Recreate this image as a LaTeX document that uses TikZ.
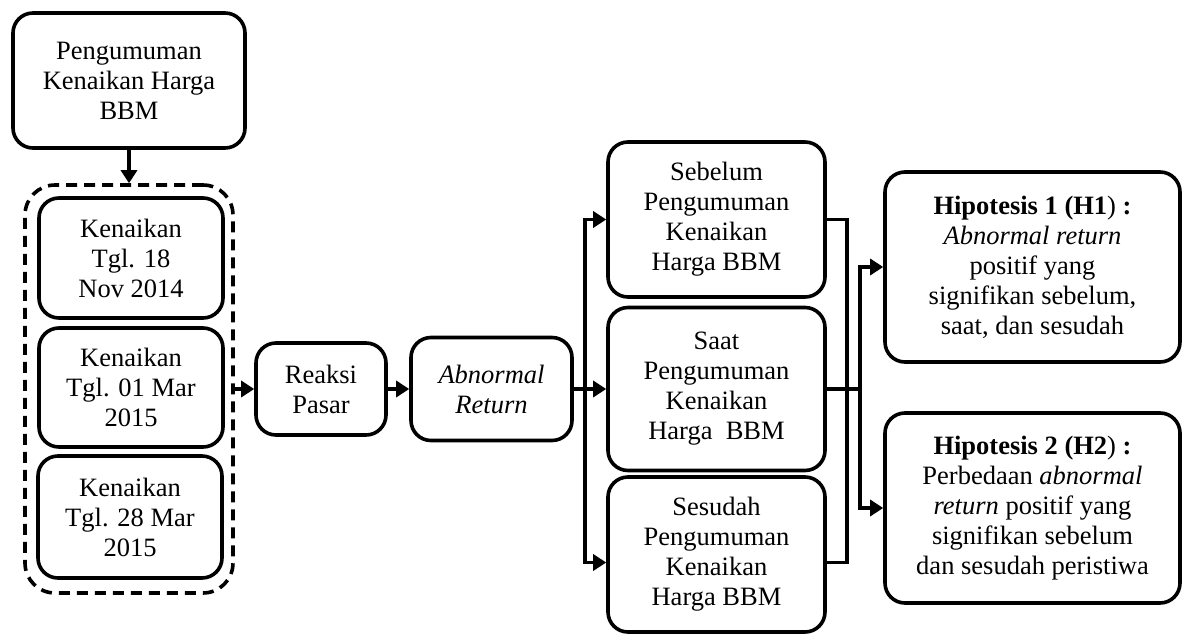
\documentclass[tikz,border=0pt]{standalone}
\usepackage{fontspec}
\setmainfont{Liberation Serif}
\usetikzlibrary{arrows.meta}
\begin{document}
\begin{tikzpicture}[x=1pt,y=-1pt,line width=3.6pt,
	box/.style={draw,rounded corners=20pt,align=center,inner sep=0pt,font=\fontsize{26.5}{30}\selectfont},
	grupbox/.style={draw,rounded corners=30pt,dash pattern=on 11pt off 7pt,inner sep=0pt},
	>={Triangle[length=13pt,width=16pt]}]
	\useasboundingbox (0,0) rectangle (1183,637);
	% pengumuman dan tanggal kenaikan
	\node[box,minimum width=232pt,minimum height=135pt] (umum) at (129,80.5) {Pengumuman\\Kenaikan Harga\\BBM};
	\node[grupbox,minimum width=208pt,minimum height=408pt] (grup) at (129,389) {};
	\node[box,minimum width=184pt,minimum height=120pt] (naik1) at (131,258) {Kenaikan\\Tgl. 18\\Nov 2014};
	\node[box,minimum width=184pt,minimum height=119pt] (naik2) at (131,387.5) {Kenaikan\\Tgl. 01 Mar\\2015};
	\node[box,minimum width=184pt,minimum height=122pt] (naik3) at (130,517) {Kenaikan\\Tgl. 28 Mar\\2015};
	% reaksi pasar
	\node[box,minimum width=130pt,minimum height=92pt] (reaksi) at (321,389) {Reaksi\\Pasar};
	\node[box,minimum width=161pt,minimum height=103pt] (abn) at (491.5,389) {\textit{Abnormal}\\\textit{Return}};
	% periode
	\node[box,minimum width=217pt,minimum height=155pt] (sebelum) at (716.5,219.5) {Sebelum\\Pengumuman\\Kenaikan\\Harga BBM};
	\node[box,minimum width=217pt,minimum height=163pt] (saat) at (716.5,389) {Saat\\Pengumuman\\Kenaikan\\Harga~~BBM};
	\node[box,minimum width=217pt,minimum height=155pt] (sesudah) at (716.5,554.5) {Sesudah\\Pengumuman\\Kenaikan\\Harga BBM};
	% hipotesis
	\node[box,minimum width=295pt,minimum height=190pt] (h1) at (1032.5,267) {\textbf{Hipotesis 1 (H1}) \textbf{:}\\\textit{Abnormal return}\\positif yang\\signifikan sebelum,\\saat, dan sesudah};
	\node[box,minimum width=295pt,minimum height=190pt] (h2) at (1032.5,508) {\textbf{Hipotesis 2 (H2}) \textbf{:}\\Perbedaan \textit{abnormal}\\\textit{return} positif yang\\signifikan sebelum\\dan sesudah peristiwa};
	% panah
	\draw[->] (umum) -- (grup);
	\draw[->] (grup) -- (reaksi);
	\draw[->] (reaksi) -- (abn);
	\draw (abn.east) -- ++(11,0) coordinate (s1);
	\draw[->] (s1) |- (sebelum);
	\draw[->] (s1) -- (saat);
	\draw[->] (s1) |- ([yshift=-8pt]sesudah.west);
	\draw (sebelum.east) -- ++(20,0) |- ([yshift=-8pt]sesudah.east);
	\draw (saat.east) -- ++(33,0) coordinate (s2);
	\draw[->] (s2) |- (h1);
	\draw[->] (s2) |- (h2);
\end{tikzpicture}
\end{document}
